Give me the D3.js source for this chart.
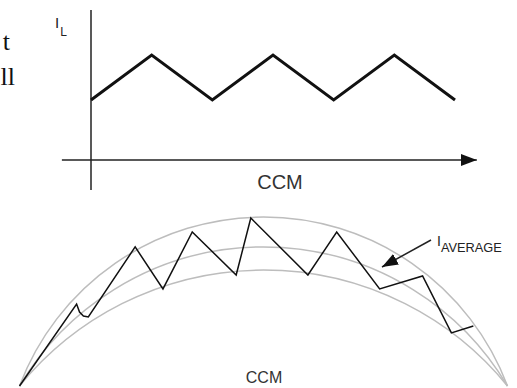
<!DOCTYPE html>
<html>
<head>
<meta charset="utf-8">
<script src="https://cdn.jsdelivr.net/npm/d3@7"></script>
<style>
  body { margin: 0; background: #fff; }
  svg { display: block; }
  text { font-family: "Liberation Sans", Arial, sans-serif; fill: #222; }
</style>
</head>
<body>
<svg id="chart" width="517" height="388"></svg>
<script>
// top panel: CCM inductor current, alternating valley / peak
const ccmSteps = [0, 1, 2, 3, 4, 5, 6];
const ccmCurrent = [4, 7, 4, 7, 4, 7, 4];

// bottom panel: current riding on a rectified sine (units 0..100)
const rippleX = [0, 11.7, 12.3, 13.1, 14.1, 23.7, 29.4, 35.4, 44.4, 47.4, 59.1, 65.0, 73.8, 82.6, 88.5, 93.0];
const rippleY = [0, 48.2, 43.5, 41.2, 40.6, 81.8, 57.1, 90.6, 65.3, 98.8, 65.3, 90.6, 57.1, 64.7, 31.2, 35.3];
// peak, average, valley envelopes (apex height)
const envelopeApex = [99.4, 81.8, 68.2];

const labelTop = "CCM";
const labelBottom = "CCM";

const svg = d3.select("#chart");

// paragraph text fragments at the left edge
svg.append("text").attr("x", 10).attr("y", 50).attr("text-anchor", "end")
  .style("font-family", "'Liberation Serif', serif").style("font-size", "26px").style("fill", "#111").text("t");
svg.append("text").attr("x", 15).attr("y", 85).attr("text-anchor", "end")
  .style("font-family", "'Liberation Serif', serif").style("font-size", "26px").style("fill", "#111").text("ll");

// ---- top panel ----
let x = d3.scaleLinear().domain([0, 6]).range([91, 455]);
let y = d3.scaleLinear().domain([0, 10]).range([160, 10]);

svg.append("defs").append("marker")
  .attr("id", "head")
  .attr("viewBox", "0 0 16 12")
  .attr("refX", 16).attr("refY", 6)
  .attr("markerWidth", 16).attr("markerHeight", 12)
  .attr("markerUnits", "userSpaceOnUse")
  .attr("orient", "auto")
  .append("path").attr("d", "M0,0 L16,6 L0,12 Z").attr("fill", "#111");

svg.append("line")
  .attr("x1", x(-0.48)).attr("x2", x(6.36))
  .attr("y1", y(0)).attr("y2", y(0))
  .attr("stroke", "#222").attr("stroke-width", 1.5)
  .attr("marker-end", "url(#head)");

svg.append("line")
  .attr("x1", x(0)).attr("x2", x(0))
  .attr("y1", y(-2)).attr("y2", y(10))
  .attr("stroke", "#222").attr("stroke-width", 1.5);

let wave = d3.line()
  .x(function (d, i) { return x(ccmSteps[i]); })
  .y(function (d) { return y(d); });

svg.append("path")
  .attr("d", wave(ccmCurrent))
  .attr("fill", "none")
  .attr("stroke", "#111")
  .attr("stroke-width", 3)
  .attr("stroke-linejoin", "miter");

let il = svg.append("text").attr("x", 55).attr("y", 28).style("font-size", "15px");
il.append("tspan").text("I");
il.append("tspan").attr("dx", 1).attr("dy", 8).style("font-size", "12px").text("L");

svg.append("text")
  .attr("x", 280).attr("y", 189)
  .attr("text-anchor", "middle")
  .style("font-size", "20px").style("fill", "#333")
  .text(labelTop);

// ---- bottom panel ----
let bx = d3.scaleLinear().domain([0, 100]).range([19.5, 507.5]);
let by = d3.scaleLinear().domain([0, 100]).range([386, 216]);

// circle through both ends and apex
function envelopePath(apex) {
  const x0 = bx(0), x1 = bx(100), yb = by(0);
  const c = (x1 - x0) / 2;
  const h = yb - by(apex);
  const r = (c * c + h * h) / (2 * h);
  return "M" + x0 + "," + yb + " A" + r + "," + r + " 0 0 1 " + x1 + "," + yb;
}

svg.append("g")
  .selectAll("path")
  .data(envelopeApex)
  .enter()
  .append("path")
  .attr("d", function (d) { return envelopePath(d); })
  .attr("fill", "none")
  .attr("stroke", "#bdbdbd")
  .attr("stroke-width", 1.5);

let ripple = d3.line()
  .x(function (d, i) { return bx(rippleX[i]); })
  .y(function (d) { return by(d); });

svg.append("path")
  .attr("d", ripple(rippleY))
  .attr("fill", "none")
  .attr("stroke", "#111")
  .attr("stroke-width", 1.5);

// I_AVERAGE pointer
svg.append("line")
  .attr("x1", 431).attr("y1", 240)
  .attr("x2", 382).attr("y2", 267)
  .attr("stroke", "#222").attr("stroke-width", 1.5)
  .attr("marker-end", "url(#head)");

let ia = svg.append("text").attr("x", 437).attr("y", 246).style("font-size", "14px");
ia.append("tspan").text("I");
ia.append("tspan").attr("dx", 0).attr("dy", 6).style("font-size", "12.8px").text("AVERAGE");

svg.append("text")
  .attr("x", 264).attr("y", 383)
  .attr("text-anchor", "middle")
  .style("font-size", "16px").style("fill", "#333")
  .text(labelBottom);
</script>
</body>
</html>
